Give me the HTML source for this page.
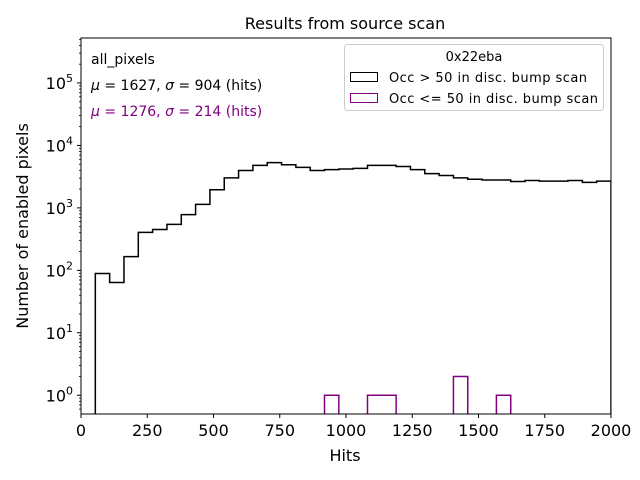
<!DOCTYPE html>
<html><head><meta charset="utf-8"><style>
body{margin:0;background:#fff}
svg{display:block;font-family:"DejaVu Sans","Liberation Sans",sans-serif}
</style></head><body>
<svg id="chart" width="640" height="480" viewBox="0 0 640 480">
<defs><clipPath id="plotclip"><rect x="81" y="38" width="530" height="376"/></clipPath></defs>
<rect width="640" height="480" fill="#fff"/>
<g id="marks" clip-path="url(#plotclip)"></g>
<g id="axes"></g>
<text x="345" y="29" text-anchor="middle" font-size="16">Results from source scan</text>
<text x="345" y="461" text-anchor="middle" font-size="16">Hits</text>
<text transform="translate(28,226) rotate(-90)" text-anchor="middle" font-size="16">Number of enabled pixels</text>
<text x="91" y="64" font-size="14">all_pixels</text>
<text x="91" y="90" font-size="14"><tspan font-style="italic">μ</tspan> = 1627, <tspan font-style="italic">σ</tspan> = 904 (hits)</text>
<text x="91" y="116" font-size="14" fill="#800080"><tspan font-style="italic">μ</tspan> = 1276, <tspan font-style="italic">σ</tspan> = 214 (hits)</text>
<g>
<rect x="344.5" y="44.5" width="259" height="66" rx="3" fill="#fff" fill-opacity="0.8" stroke="#ccc"/>
<text x="474" y="61" text-anchor="middle" font-size="13">0x22eba</text>
<rect x="350.5" y="72.5" width="27" height="9" fill="none" stroke="#000"/>
<text x="389" y="82" font-size="13" textLength="198">Occ &gt; 50 in disc. bump scan</text>
<rect x="350.5" y="93.5" width="27" height="9" fill="none" stroke="#800080"/>
<text x="389" y="103" font-size="13" textLength="209">Occ &lt;= 50 in disc. bump scan</text>
</g>
</svg>
<script>
const binWidth = 2000/37;
const blackCounts = [0,89,64,166,405,450,545,780,1140,1950,3030,3960,4800,5300,4900,4450,3960,4100,4200,4300,4800,4800,4600,4100,3530,3300,3030,2880,2800,2800,2640,2750,2680,2680,2750,2560,2680];
const purpleCounts = [0,0,0,0,0,0,0,0,0,0,0,0,0,0,0,0,0,1,0,0,1,1,0,0,0,0,2,0,0,1,0,0,0,0,0,0,0];
const xTicks = [0,250,500,750,1000,1250,1500,1750,2000];
const yTicks = [0,1,2,3,4,5];
const X0=81,X1=611,Y0=414,Y1=38,YMIN=-0.3,YMAX=5.72;
const sx=v=>X0+(v/2000)*(X1-X0);
const sy=v=>{const l=v>0?Math.log10(v):YMIN-0.1;return Y0-(l-YMIN)/(YMAX-YMIN)*(Y0-Y1);};
const NS="http://www.w3.org/2000/svg";
const marks=document.getElementById('marks'), axes=document.getElementById('axes');
function stepPath(counts,color,name){
  let d='';
  counts.forEach((c,i)=>{
    const xa=sx(i*binWidth), xb=sx((i+1)*binWidth);
    const y=sy(c);
    d+=(i===0?'M':'L')+xa+','+y+'L'+xb+','+y;
  });
  d+='L'+sx(2000)+','+(Y0+10);
  const p=document.createElementNS(NS,'path');
  p.setAttribute('d',d);p.setAttribute('fill','none');p.setAttribute('stroke',color);p.setAttribute('stroke-width','1.5');
  
  
  marks.appendChild(p);
}
stepPath(purpleCounts,'#800080','purple-histogram');
stepPath(blackCounts,'#000','black-histogram');
const frame=document.createElementNS(NS,'rect');
frame.setAttribute('x',X0);frame.setAttribute('y',Y1);frame.setAttribute('width',X1-X0);frame.setAttribute('height',Y0-Y1);
frame.setAttribute('fill','none');frame.setAttribute('stroke','#000');frame.setAttribute('stroke-width','1');


axes.appendChild(frame);
function line(x1,y1,x2,y2,w){const l=document.createElementNS(NS,'line');l.setAttribute('x1',x1);l.setAttribute('y1',y1);l.setAttribute('x2',x2);l.setAttribute('y2',y2);l.setAttribute('stroke','#000');l.setAttribute('stroke-width',w||1);axes.appendChild(l);return l;}
xTicks.forEach(t=>{
  const x=sx(t);const l=line(x,Y0,x,Y0+4);
  
  
  const tx=document.createElementNS(NS,'text');tx.setAttribute('x',x);tx.setAttribute('y',Y0+22);tx.setAttribute('text-anchor','middle');tx.setAttribute('font-size','16');tx.textContent=t;
  
  
  axes.appendChild(tx);
});
yTicks.forEach(e=>{
  const y=sy(Math.pow(10,e));const l=line(X0-4,y,X0,y);
  
  
  const tx=document.createElementNS(NS,'text');tx.setAttribute('x',X0-8);tx.setAttribute('y',y+6);tx.setAttribute('text-anchor','end');tx.setAttribute('font-size','16');
  tx.innerHTML='10<tspan dy="-7" font-size="11">'+e+'</tspan>';
  
  
  axes.appendChild(tx);
});
for(let e=-1;e<=5;e++){for(let k=2;k<=9;k++){const v=k*Math.pow(10,e);const lv=Math.log10(v);if(lv<YMIN||lv>YMAX)continue;const y=sy(v);const l=line(X0-2,y,X0,y,0.8);
  
  }}
</script>
</body></html>
